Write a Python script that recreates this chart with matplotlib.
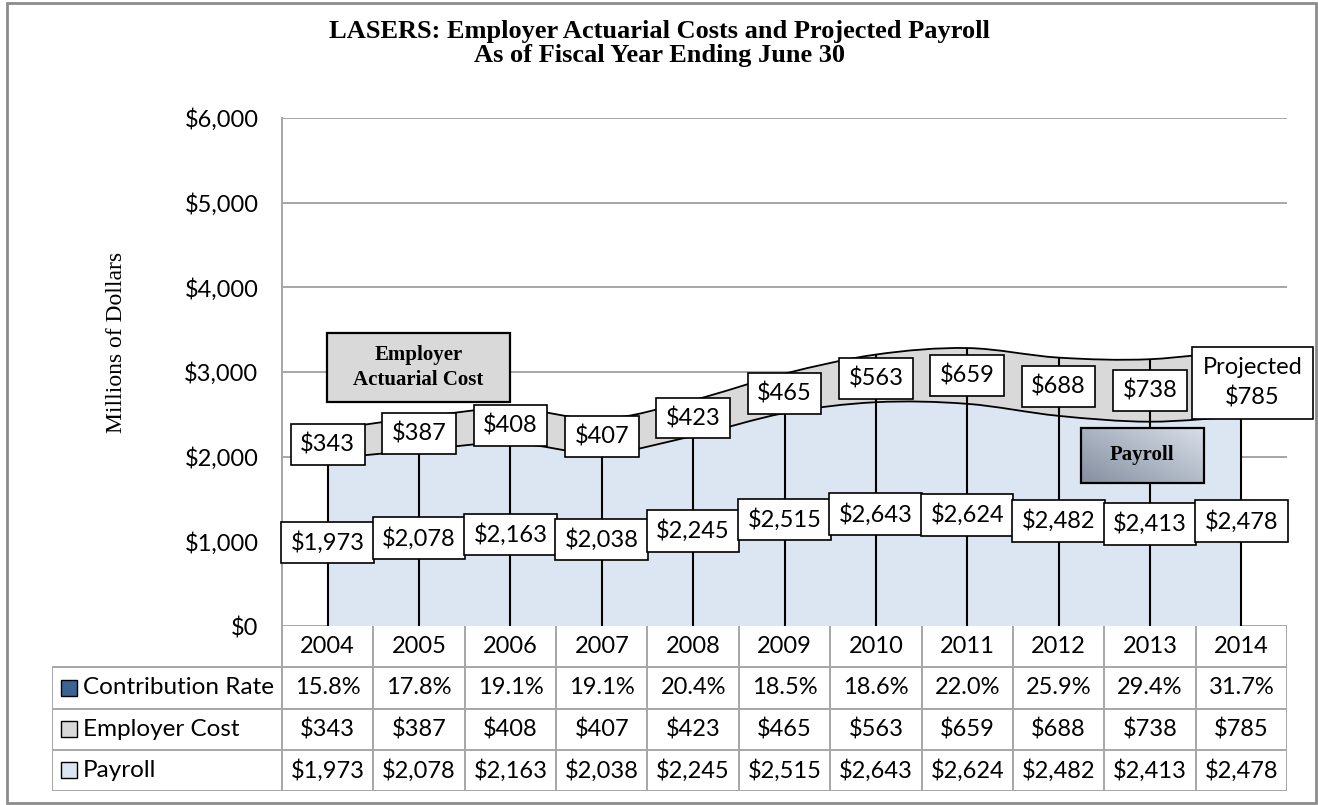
import numpy as np
import matplotlib
matplotlib.use("Agg")
import matplotlib.pyplot as plt
from matplotlib.path import Path
from matplotlib.patches import PathPatch, Rectangle
from matplotlib.colors import LinearSegmentedColormap
from matplotlib.ticker import FuncFormatter

years = [2004, 2005, 2006, 2007, 2008, 2009, 2010, 2011, 2012, 2013, 2014]
contribution_rate = [15.8, 17.8, 19.1, 19.1, 20.4, 18.5, 18.6, 22.0, 25.9, 29.4, 31.7]
employer_cost = [343, 387, 408, 407, 423, 465, 563, 659, 688, 738, 785]
payroll = [1973, 2078, 2163, 2038, 2245, 2515, 2643, 2624, 2482, 2413, 2478]
row_names = ["Contribution Rate", "Employer Cost", "Payroll"]

SANS = "Lato"
SERIF = "Liberation Serif"
BLUE_FILL = "#DCE6F2"
GRAY_FILL = "#D9D9D9"
GRID = "#A6A6A6"

W, H = 1318, 805
fig = plt.figure(figsize=(W / 100, H / 100), dpi=100)

# plot area in pixels: left 282, right 1287, top 118, bottom 626
ax = fig.add_axes([282 / W, (H - 626) / H, (1287 - 282) / W, (626 - 118) / H])


def smooth_path(xs, ys):
    # Excel-like smoothed line: bezier segments with catmull-rom handles
    n = len(xs)
    verts = [(xs[0], ys[0])]
    codes = [Path.MOVETO]
    for i in range(n - 1):
        a, b = max(i - 1, 0), min(i + 2, n - 1)
        c1 = (xs[i] + (xs[i + 1] - xs[a]) / 6, ys[i] + (ys[i + 1] - ys[a]) / 6)
        c2 = (xs[i + 1] - (xs[b] - xs[i]) / 6, ys[i + 1] - (ys[b] - ys[i]) / 6)
        verts += [c1, c2, (xs[i + 1], ys[i + 1])]
        codes += [Path.CURVE4] * 3
    return verts, codes


x = np.arange(len(years))
pay = np.array(payroll, dtype=float)
total = pay + np.array(employer_cost, dtype=float)

pv, pc = smooth_path(x, pay)
tv, tc = smooth_path(x, total)
rv, rc = smooth_path(x[::-1], pay[::-1])

# payroll area
verts = pv + [(x[-1], 0), (x[0], 0), (x[0], pay[0])]
codes = pc + [Path.LINETO, Path.LINETO, Path.CLOSEPOLY]
ax.add_patch(PathPatch(Path(verts, codes), facecolor=BLUE_FILL, edgecolor="none", zorder=2))

# employer cost area stacked on payroll
verts = tv + rv + [(x[0], total[0])]
codes = tc + [Path.LINETO] + rc[1:] + [Path.CLOSEPOLY]
ax.add_patch(PathPatch(Path(verts, codes), facecolor=GRAY_FILL, edgecolor="none", zorder=2))

ax.add_patch(PathPatch(Path(pv, pc), fill=False, edgecolor="black", lw=1.3, zorder=3))
ax.add_patch(PathPatch(Path(tv, tc), fill=False, edgecolor="black", lw=1.3, zorder=3))

# drop lines
ax.vlines(x, 0, total, colors="black", lw=1.5, zorder=3)

box = dict(boxstyle="square,pad=0.4", facecolor="white", edgecolor="black", lw=1.2)
for i in range(len(years)):
    ax.text(x[i], pay[i] / 2, f"${payroll[i]:,}", ha="center", va="center",
            fontsize=17, family=SANS, bbox=box, zorder=6)
    if i < len(years) - 1:
        ax.text(x[i], pay[i] + employer_cost[i] / 2, f"${employer_cost[i]:,}",
                ha="center", va="center", fontsize=17, family=SANS, bbox=box, zorder=6)
ax.text(x[-1] + 0.12, pay[-1] + employer_cost[-1] / 2, f"Projected\n${employer_cost[-1]:,}",
        ha="center", va="center", fontsize=17, family=SANS, linespacing=1.45,
        bbox=dict(boxstyle="square,pad=0.45", facecolor="white", edgecolor="black", lw=1.2),
        zorder=6, clip_on=False)

# "Employer Actuarial Cost" callout
ax.add_patch(Rectangle((0.0448, 0.441), 0.1821, 0.136, transform=ax.transAxes,
                       facecolor=GRAY_FILL, edgecolor="black", lw=1.6, zorder=7))
ax.text(0.0448 + 0.1821 / 2, 0.441 + 0.068, "Employer\nActuarial Cost", transform=ax.transAxes,
        ha="center", va="center", fontsize=15, family=SERIF, weight="bold", zorder=8,
        linespacing=1.35)

# "Payroll" callout with gradient
x0, x1, y0, y1 = 0.795, 0.917, 0.2815, 0.3898
yy, xx = np.mgrid[0:1:60j, 0:1:120j]
cmap = LinearSegmentedColormap.from_list("pg", ["#858FA0", "#D8DFE9"])
ax.imshow(0.55 * xx + 0.45 * yy, cmap=cmap, extent=[x0, x1, y0, y1], transform=ax.transAxes,
          origin="lower", aspect="auto", zorder=7)
ax.add_patch(Rectangle((x0, y0), x1 - x0, y1 - y0, transform=ax.transAxes,
                       facecolor="none", edgecolor="black", lw=1.6, zorder=8))
ax.text((x0 + x1) / 2, (y0 + y1) / 2, "Payroll", transform=ax.transAxes,
        ha="center", va="center", fontsize=15, family=SERIF, weight="bold", zorder=9)

ax.set_xlim(-0.5, len(years) - 0.5)
ax.set_ylim(0, 6000)
ax.set_aspect("auto")
ax.set_yticks(np.arange(0, 6001, 1000))
ax.yaxis.set_major_formatter(FuncFormatter(lambda v, p: f"${v:,.0f}"))
ax.set_xticks([])
ax.tick_params(axis="y", length=0, pad=17, labelsize=17)
for lab in ax.get_yticklabels():
    lab.set_family(SANS)
ax.yaxis.grid(True, color=GRID, lw=1.4)
ax.set_axisbelow(True)
for s in ["top", "right", "bottom"]:
    ax.spines[s].set_visible(False)
ax.spines["left"].set_color(GRID)
ax.spines["left"].set_linewidth(1.4)

# data table under the plot, sharing the category positions
label_w = 230 / 91.36
tax = fig.add_axes([52 / W, (H - 791) / H, 1235 / W, 165 / H])
tax.set_xlim(-0.5 - label_w, len(years) - 0.5)
tax.set_ylim(4, 0)
tax.axis("off")
edges = np.arange(len(years) + 1) - 0.5
tax.vlines(edges, 0, 4, colors=GRID, lw=1.4)
tax.vlines(-0.5 - label_w, 1, 4, colors=GRID, lw=1.4)
tax.hlines([1, 2, 3, 4], -0.5 - label_w, len(years) - 0.5, colors=GRID, lw=1.4)

for i, yr in enumerate(years):
    tax.text(i, 0.5, str(yr), ha="center", va="center", fontsize=17, family=SANS)
    tax.text(i, 1.5, f"{contribution_rate[i]:.1f}%", ha="center", va="center", fontsize=17, family=SANS)
    tax.text(i, 2.5, f"${employer_cost[i]:,}", ha="center", va="center", fontsize=17, family=SANS)
    tax.text(i, 3.5, f"${payroll[i]:,}", ha="center", va="center", fontsize=17, family=SANS)

key_colors = ["#3B6496", GRAY_FILL, BLUE_FILL]
for r, (name, col) in enumerate(zip(row_names, key_colors)):
    tax.plot(-0.5 - label_w + 17 / 91.36, r + 1.5, marker="s", ms=11, mfc=col, mec="black",
             mew=1.0, clip_on=False)
    tax.text(-0.5 - label_w + 31 / 91.36, r + 1.5, name, ha="left", va="center",
             fontsize=17.5, family=SANS)

# titles
fig.text(0.5, 1 - 20 / H, "LASERS: Employer Actuarial Costs and Projected Payroll\nAs of Fiscal Year Ending June 30",
         ha="center", va="top", fontsize=19, family=SERIF, weight="bold", linespacing=1.05)
fig.text(117 / W, 1 - 342 / H, "Millions of Dollars", rotation=90, ha="center", va="center",
         fontsize=17, family=SERIF)

# chart border
fig.add_artist(Rectangle((7 / W, 2 / H), 1309 / W, 800 / H, transform=fig.transFigure,
                         facecolor="none", edgecolor="#8C8C8C", lw=2))

fig.savefig("out.png", dpi=100)
